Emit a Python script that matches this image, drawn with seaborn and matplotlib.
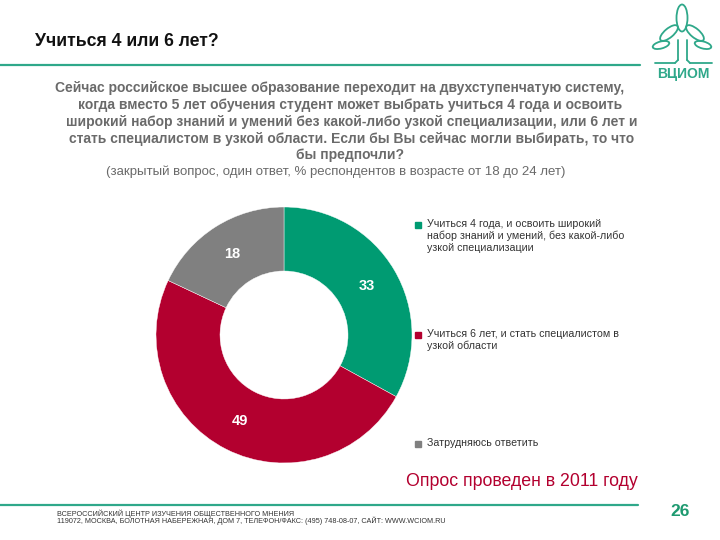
import matplotlib
matplotlib.use("Agg")
import matplotlib.pyplot as plt
from matplotlib.patches import Ellipse, Rectangle
import numpy as np
import seaborn as sns

# ---- data ----
categories = [
    "Учиться 4 года, и освоить широкий\nнабор знаний и умений, без какой-либо\nузкой специализации",
    "Учиться 6 лет, и стать специалистом в\nузкой области",
    "Затрудняюсь ответить",
]
values = [33, 49, 18]
colors = ["#009B72", "#B3002F", "#808080"]

title = "Учиться 4 или 6 лет?"
question_lines = [
    "Сейчас российское высшее образование переходит на двухступенчатую систему,",
    "когда вместо 5 лет обучения студент может выбрать учиться 4 года и освоить",
    "широкий набор знаний и умений без какой-либо узкой специализации, или 6 лет и",
    "стать специалистом в узкой области. Если бы Вы сейчас могли выбирать, то что",
    "бы предпочли?",
]
note = "(закрытый вопрос, один ответ, % респондентов в возрасте от 18 до 24 лет)"
survey = "Опрос проведен в 2011 году"
footer1 = "ВСЕРОССИЙСКИЙ ЦЕНТР ИЗУЧЕНИЯ ОБЩЕСТВЕННОГО МНЕНИЯ"
footer2 = "119072, МОСКВА, БОЛОТНАЯ НАБЕРЕЖНАЯ, ДОМ 7, ТЕЛЕФОН/ФАКС: (495) 748-08-07, САЙТ: WWW.WCIOM.RU"
page = "26"

sns.set_theme(style="white")
plt.rcParams["font.family"] = ["Liberation Sans", "DejaVu Sans"]

W, H = 720, 540
fig = plt.figure(figsize=(7.2, 5.4), dpi=100)
fig.patch.set_facecolor("white")

# background axes in pixel coordinates
bg = fig.add_axes([0, 0, 1, 1])
bg.set_xlim(0, W)
bg.set_ylim(H, 0)
bg.axis("off")

teal = "#2FA88A"
bg.text(35, 42, title, fontsize=12.7, fontweight="bold", color="#111111", va="center", ha="left")
bg.plot([0, 640], [65, 65], color=teal, lw=1.6)
bg.plot([0, 638], [505, 505], color=teal, lw=1.6)

# logo
logo_green = "#2FA88A"
for (cx, cy, w, h, ang) in [(682, 18, 11, 27, 0), (669, 33, 9, 22, 50), (695, 33, 9, 22, -50),
                            (661, 45, 7, 17, 75), (703, 45, 7, 17, -75)]:
    bg.add_patch(Ellipse((cx, cy), w, h, angle=ang, fill=False, ec=logo_green, lw=1.3))
bg.plot([678, 678], [40, 60], color=logo_green, lw=1.3)
bg.plot([687, 687], [40, 60], color=logo_green, lw=1.3)
bg.plot([655, 675], [63, 63], color=logo_green, lw=1.3)
bg.plot([690, 712], [63, 63], color=logo_green, lw=1.3)
bg.plot([675, 678], [63, 60], color=logo_green, lw=1.3)
bg.plot([690, 687], [63, 60], color=logo_green, lw=1.3)
bg.text(683, 74, "ВЦИОМ", fontsize=10, fontweight="bold", color=logo_green, ha="center", va="center")

# question text
qcolor = "#6A6A6A"
ys = [88, 105, 122, 139, 155]
xs = [340, 350, 352, 352, 350]
for line, y, x in zip(question_lines, ys, xs):
    bg.text(x, y, line, fontsize=10, fontweight="bold", color=qcolor, ha="center", va="center")
bg.text(336, 172, note, fontsize=9.5, color=qcolor, ha="center", va="center")

bg.text(406, 481, survey, fontsize=12.8, color="#B3002F", ha="left", va="center")
bg.text(680, 511, page, fontsize=12.5, fontweight="bold", color="#1E9A70", ha="center", va="center")
bg.text(57, 514, footer1, fontsize=5.2, color="#333333", ha="left", va="center")
bg.text(57, 521, footer2, fontsize=5.2, color="#333333", ha="left", va="center")

# legend
leg_rows = [225, 335, 444]
for cat, col, y in zip(categories, colors, leg_rows):
    bg.add_patch(Rectangle((415, y - 3.5), 6, 6, color=col))
    bg.text(427, y - 6, cat, fontsize=7.7, color="#333333", ha="left", va="top", linespacing=1.2)

# donut
cx, cy, R = 284, 335, 128
ax = fig.add_axes([(cx - R) / W, 1 - (cy + R) / H, 2 * R / W, 2 * R / H])
wedges, _ = ax.pie(values, colors=colors, startangle=90, counterclock=False,
                   wedgeprops=dict(width=0.5, edgecolor="white", linewidth=0.3),
                   radius=1.0)
start = 90.0
total = sum(values)
for v in values:
    mid = start - v / total * 360 / 2
    r = 0.75
    ax.text(r * np.cos(np.radians(mid)), r * np.sin(np.radians(mid)), str(v),
            color="white", fontsize=10.5, fontweight="bold", ha="center", va="center")
    start -= v / total * 360
ax.set_xlim(-1, 1)
ax.set_ylim(-1, 1)
ax.set_aspect("equal")

fig.savefig("out.png", dpi=100, facecolor="white")
